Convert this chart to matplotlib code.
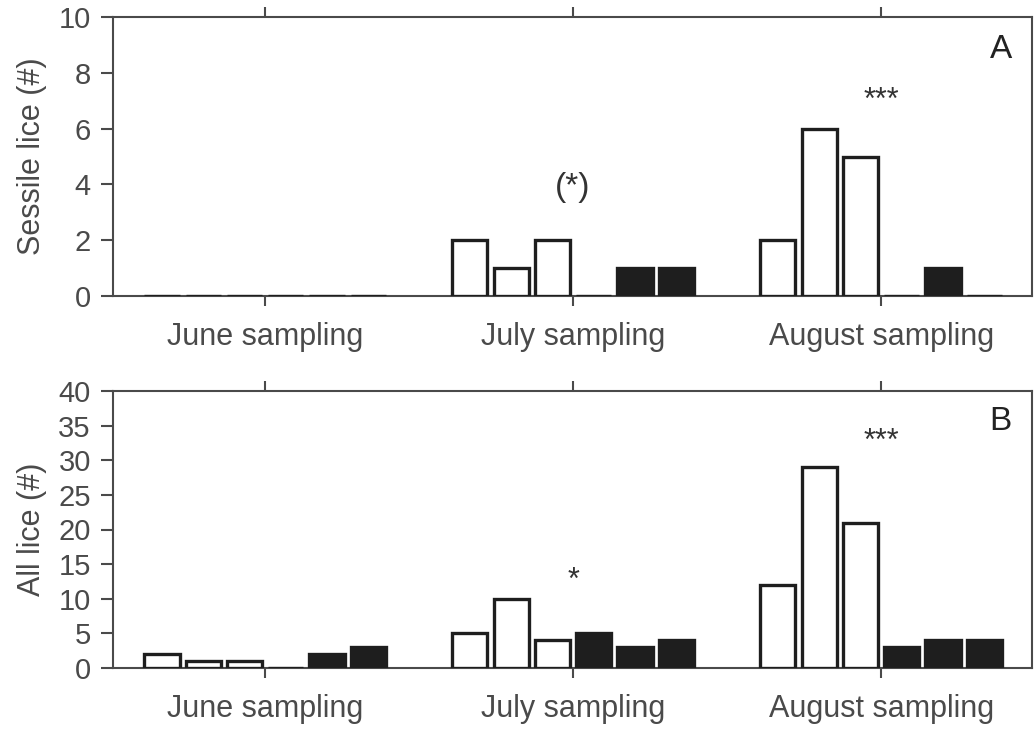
import matplotlib.pyplot as plt
import numpy as np

plt.rcParams['font.family'] = ['Liberation Sans', 'DejaVu Sans']

# Counts per sampling month, six bars each (three open, three filled)
months = ['June sampling', 'July sampling', 'August sampling']
sessile = [
    [0, 0, 0, 0, 0, 0],
    [2, 1, 2, 0, 1, 1],
    [2, 6, 5, 0, 1, 0],
]
all_lice = [
    [2, 1, 1, 0, 2, 3],
    [5, 10, 4, 5, 3, 4],
    [12, 29, 21, 3, 4, 4],
]
sessile_marks = {1: ('(*)', 3.9), 2: ('***', 7.0)}
all_marks = {1: ('*', 12.6), 2: ('***', 32.6)}

grey = '#4a4a4a'
figureWidth = 10.35
figureHeight = 7.3
fig = plt.figure(figsize=(figureWidth, figureHeight), dpi=100)

panelA = plt.axes([113 / 1035, 1 - 296 / 730, 919 / 1035, 279 / 730])
panelB = plt.axes([113 / 1035, 1 - 668 / 730, 919 / 1035, 277 / 730])

step = 0.134
width = 0.114
offsets = (np.arange(6) - 2.5) * step


def draw_panel(ax, data, ymax, yticks, ylabel, letter, letter_y, marks):
    for g, vals in enumerate(data):
        for i, v in enumerate(vals):
            face = 'white' if i < 3 else '#1e1e1e'
            ax.bar(g + offsets[i], v, width=width, facecolor=face,
                   edgecolor='#1e1e1e', linewidth=2.4, zorder=3)
    for g, (txt, y) in marks.items():
        ax.text(g, y, txt, ha='center', va='center',
                fontsize=24 if txt == '(*)' else 22, color='#333333')
    ax.text(0.966, letter_y, letter, transform=ax.transAxes, ha='center', va='center',
            fontsize=24, color='#222222')
    ax.set_xlim(-0.494, 2.49)
    ax.set_ylim(0, ymax)
    ax.set_yticks(yticks)
    ax.set_xticks(range(3))
    ax.set_xticklabels(months)
    ax.set_ylabel(ylabel, fontsize=22, color=grey)
    ax.yaxis.set_label_coords(-0.072, 0.5)
    ax.tick_params(axis='y', direction='out', length=9, width=1.5, color=grey,
                   labelsize=21, labelcolor=grey, pad=7)
    ax.tick_params(axis='x', direction='out', length=7, width=1.5, color=grey,
                   labelsize=22, labelcolor=grey, pad=12, top=True)
    for s in ax.spines.values():
        s.set_linewidth(1.5)
        s.set_color(grey)


draw_panel(panelA, sessile, 10, range(0, 11, 2), 'Sessile lice (#)', 'A', 0.885,
           sessile_marks)
draw_panel(panelB, all_lice, 40, range(0, 41, 5), 'All lice (#)', 'B', 0.89,
           all_marks)

plt.savefig('out.png', dpi=100)
